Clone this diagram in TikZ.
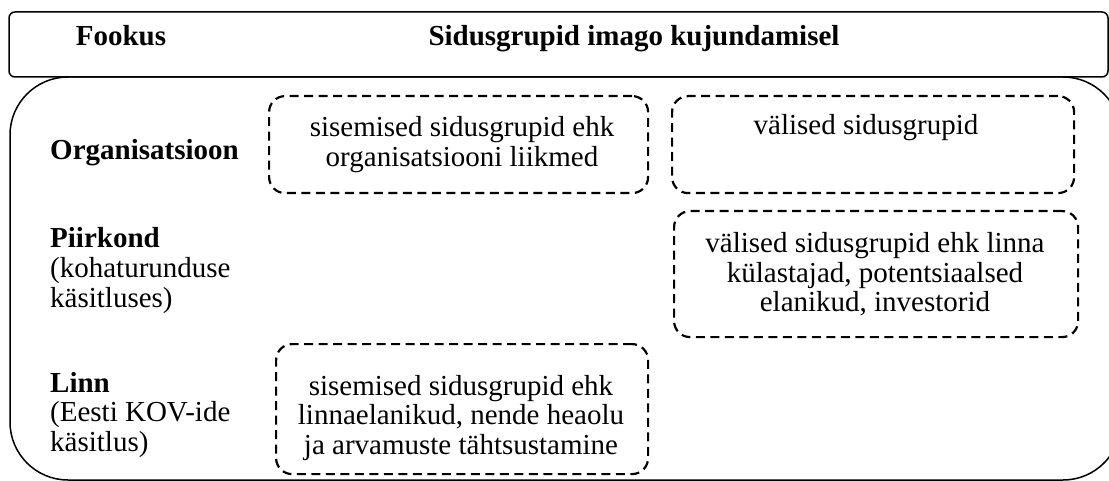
\documentclass[tikz,border=0pt]{standalone}
\usepackage{fontspec}
\setmainfont{Liberation Serif}
\begin{document}
\begin{tikzpicture}[x=1pt,y=-1pt,
  frame/.style={draw=black,line width=1.5pt},
  groupbox/.style={draw=black,line width=2.2pt,dash pattern=on 9pt off 5.5pt,
    rounded corners=16pt,inner sep=0pt,anchor=north west},
  % multi-line nodes sit on the baseline of their last line
  boxtext/.style={font=\fontsize{29}{29.5}\selectfont,align=center,inner sep=0pt,anchor=base},
  rowtext/.style={font=\fontsize{29}{29.5}\selectfont,align=left,inner sep=0pt,anchor=base west},
  headtext/.style={font=\fontsize{29}{30}\selectfont\bfseries,inner sep=0pt,anchor=base}]
\useasboundingbox (0,0) rectangle (1109,481);
\clip (0,0) rectangle (1109,481);

% header strip and main frame
\draw[frame,rounded corners=6pt] (9,12) rectangle (1108,77);
\draw[frame,rounded corners=58pt] (10,77) rectangle (1121,480);

% header labels
\node[headtext] (fookus) at (121,46) {Fookus};
\node[headtext] (title) at (634,46) {Sidusgrupid imago kujundamisel};

% row labels
\node[rowtext] (org) at (50,160) {\textbf{Organisatsioon}};
\node[rowtext] (piir) at (50,307) {\textbf{Piirkond}\\(kohaturunduse\\käsitluses)};
\node[rowtext] (linn) at (50,451) {\textbf{Linn}\\(Eesti KOV-ide\\käsitlus)};

% stakeholder group boxes
\node[groupbox,minimum width=379pt,minimum height=97pt] (b1) at (268,95) {};
\node[groupbox,minimum width=402pt,minimum height=97pt] (b2) at (671,95) {};
\node[groupbox,minimum width=404pt,minimum height=126pt] (b3) at (673,210) {};
\node[groupbox,minimum width=372pt,minimum height=130pt] (b4) at (275,343) {};

\node[boxtext] (t1) at (462,166.5) {sisemised sidusgrupid ehk\\organisatsiooni liikmed};
\node[boxtext] (t2) at (866,135) {välised sidusgrupid};
\node[boxtext] (t3) at (875,312) {välised sidusgrupid ehk linna\\külastajad, potentsiaalsed\\elanikud, investorid};
\node[boxtext] (t4) at (461,454) {sisemised sidusgrupid ehk\\linnaelanikud, nende heaolu\\ja arvamuste tähtsustamine};
\end{tikzpicture}
\end{document}
